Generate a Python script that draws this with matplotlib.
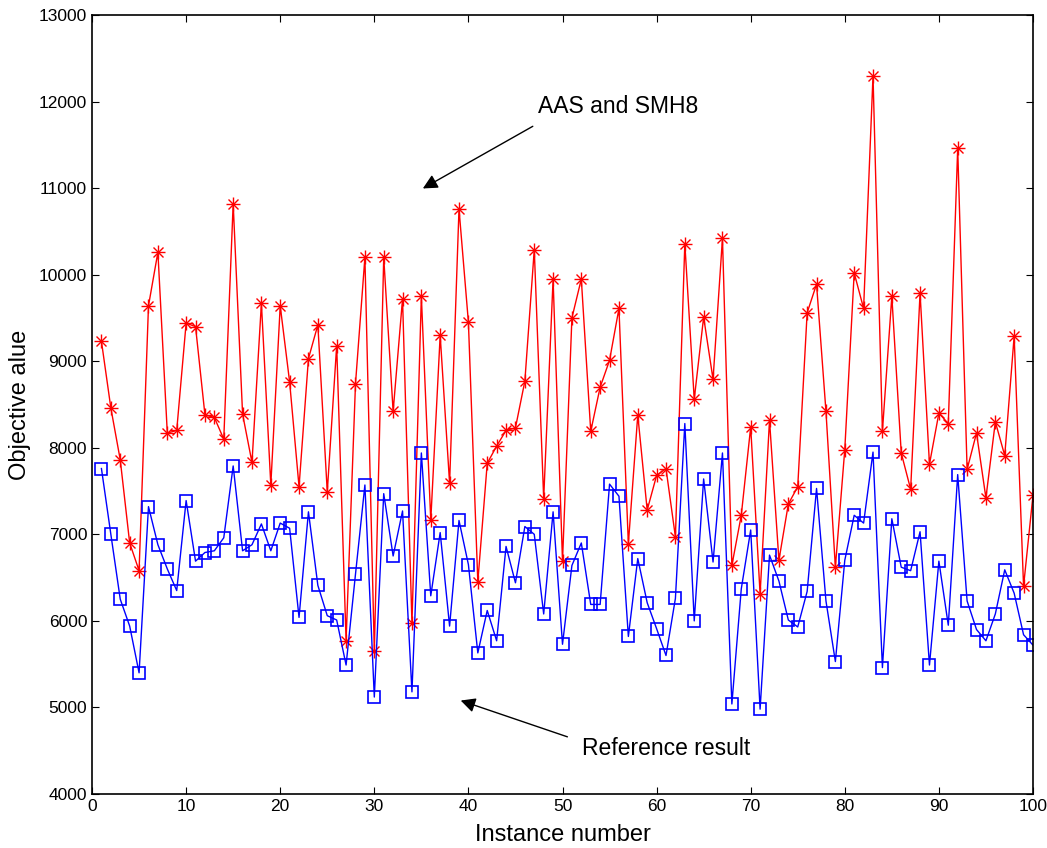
import matplotlib
matplotlib.use('Agg')
import matplotlib.pyplot as plt
import numpy as np

plt.rcParams["font.family"] = ["Liberation Sans", "DejaVu Sans"]

instances = np.arange(1, 101)

aas_smh8 = [
    9230, 8460, 7860, 6900, 6580, 9640, 10260, 8170, 8200, 9440,
    9400, 8380, 8350, 8100, 10820, 8390, 7830, 9670, 7570, 9640,
    8760, 7550, 9030, 9420, 7490, 9180, 5770, 8740, 10200, 5650,
    10200, 8420, 9720, 5970, 9750, 7160, 9300, 7590, 10760, 9450,
    6450, 7820, 8020, 8200, 8230, 8770, 10290, 7410, 9950, 6690,
    9500, 9950, 8190, 8700, 9010, 9610, 6890, 8380, 7280, 7680,
    7760, 6970, 10360, 8560, 9510, 8790, 10420, 6640, 7220, 8240,
    6310, 8320, 6700, 7350, 7550, 9560, 9890, 8420, 6620, 7980,
    10020, 9610, 12300, 8190, 9750, 7940, 7520, 9790, 7810, 8400,
    8280, 11460, 7750, 8170, 7420, 8300, 7910, 9290, 6400, 7450,
]

reference = [
    7760, 7000, 6250, 5940, 5400, 7320, 6880, 6600, 6350, 7390,
    6690, 6790, 6810, 6960, 7790, 6810, 6880, 7120, 6810, 7130,
    7070, 6040, 7260, 6410, 6060, 6010, 5490, 6540, 7570, 5120,
    7470, 6750, 7270, 5180, 7940, 6290, 7020, 5940, 7160, 6650,
    5630, 6120, 5770, 6860, 6440, 7090, 7000, 6080, 7260, 5730,
    6640, 6900, 6190, 6190, 7580, 7440, 5820, 6720, 6210, 5910,
    5600, 6260, 8280, 6000, 7640, 6680, 7940, 5040, 6370, 7050,
    4980, 6760, 6460, 6010, 5930, 6340, 7530, 6230, 5530, 6700,
    7220, 7130, 7950, 5460, 7180, 6620, 6580, 7030, 5490, 6690,
    5950, 7690, 6230, 5900, 5770, 6080, 6590, 6320, 5840, 5720,
]

fig = plt.figure(figsize=(10.47, 8.48), dpi=100)
ax = fig.add_axes([0.0879, 0.0637, 0.8987, 0.9186])

# MATLAB-style asterisk: plus and cross drawn on top of each other
ax.plot(instances, aas_smh8, color='red', linewidth=1,
        marker='+', markersize=10, markeredgewidth=1)
ax.plot(instances, aas_smh8, color='red', linestyle='none',
        marker='x', markersize=7, markeredgewidth=1)
ax.plot(instances, reference, color='blue', linewidth=1,
        marker='s', markersize=8, markerfacecolor='none',
        markeredgewidth=1.2)

ax.set_xlim(0, 100)
ax.set_ylim(4000, 13000)
ax.set_xticks(np.arange(0, 101, 10))
ax.set_yticks(np.arange(4000, 13001, 1000))
ax.tick_params(direction='in', top=True, right=True, labelsize=12.5,
               length=5, width=0.8)
for s in ax.spines.values():
    s.set_linewidth(1.2)

ax.set_xlabel('Instance number', fontsize=17, labelpad=7)
ax.set_ylabel('Objective alue', fontsize=17, labelpad=6)

ax.annotate('', xy=(34.9, 10980), xytext=(47.1, 11730),
            arrowprops=dict(arrowstyle='-|>', color='black', lw=1,
                            mutation_scale=22))
ax.text(55.9, 11940, 'AAS and SMH8', fontsize=16.5, ha='center', va='center')

ax.annotate('', xy=(38.9, 5090), xytext=(50.8, 4650),
            arrowprops=dict(arrowstyle='-|>', color='black', lw=1,
                            mutation_scale=22))
ax.text(61.0, 4530, 'Reference result', fontsize=16.5, ha='center',
        va='center')

plt.savefig('out.png', dpi=100)
